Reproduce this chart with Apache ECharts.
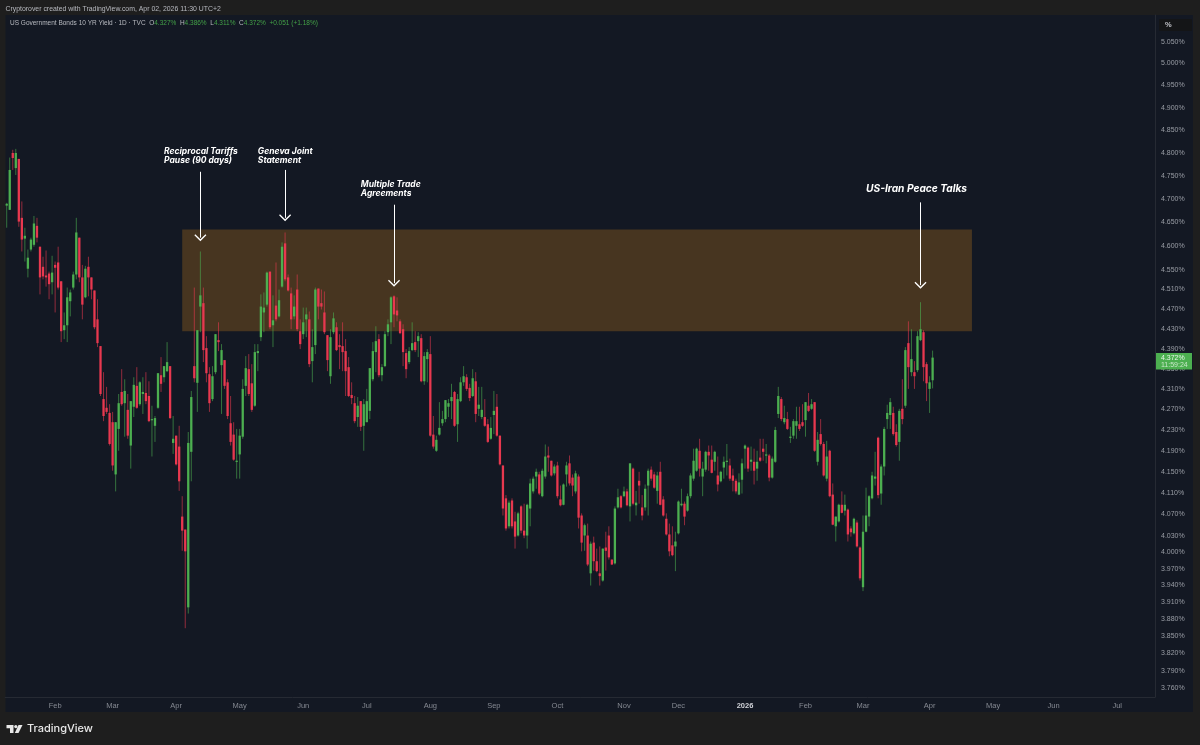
<!DOCTYPE html>
<html>
<head>
<meta charset="utf-8">
<title>US Government Bonds 10 YR Yield</title>
<script src="https://cdn.jsdelivr.net/npm/echarts@6/dist/echarts.min.js"></script>
<style>
html, body { margin: 0; padding: 0; background: #1e1e1e; }
#container { width: 1200px; height: 745px; }
</style>
</head>
<body>
<div id="container"></div>
<script>
/* daily candles (yield in %) */
var opens = [
4.686,4.677,4.800,4.767,4.787,4.660,4.616,4.553,4.593,4.603,
4.643,4.599,4.557,4.539,4.543,4.525,4.561,4.566,4.527,4.427,
4.437,4.486,4.514,4.541,4.618,4.535,4.494,4.557,4.535,4.508,
4.449,4.395,4.290,4.273,4.263,4.245,4.145,4.232,4.304,4.282,
4.269,4.200,4.275,4.316,4.280,4.300,4.302,4.296,4.249,4.238,
4.273,4.337,4.333,4.345,4.355,4.205,4.219,4.198,4.066,4.042,
3.901,4.188,4.355,4.322,4.475,4.482,4.391,4.339,4.290,4.343,
4.407,4.357,4.367,4.323,4.243,4.221,4.169,4.183,4.217,4.316,
4.349,4.321,4.277,4.381,4.413,4.463,4.479,4.547,4.437,4.477,
4.455,4.516,4.606,4.535,4.502,4.455,4.510,4.425,4.419,4.449,
4.449,4.365,4.397,4.512,4.482,4.463,4.417,4.335,4.423,4.433,
4.397,4.395,4.385,4.353,4.298,4.282,4.255,4.286,4.238,4.245,
4.267,4.329,4.383,4.409,4.337,4.355,4.423,4.443,4.496,4.467,
4.445,4.429,4.381,4.363,4.387,4.403,4.405,4.411,4.325,4.369,
4.379,4.221,4.190,4.221,4.243,4.251,4.275,4.286,4.304,4.241,
4.286,4.323,4.333,4.312,4.296,4.325,4.271,4.255,4.255,4.241,
4.213,4.259,4.275,4.219,4.162,4.100,4.048,4.096,4.057,4.031,
4.085,4.040,4.031,4.081,4.113,4.141,4.145,4.104,4.141,4.181,
4.171,4.147,4.162,4.098,4.088,4.145,4.166,4.139,4.113,4.141,
4.068,4.031,4.031,3.962,4.018,3.984,3.962,3.949,4.009,4.031,
3.987,3.980,4.083,4.104,4.104,4.113,4.085,4.156,4.087,4.133,
4.083,4.083,4.124,4.154,4.145,4.114,4.150,4.098,4.062,4.033,
4.013,4.011,4.035,4.087,4.090,4.077,4.104,4.137,4.152,4.190,
4.141,4.154,4.188,4.173,4.169,4.143,4.132,4.158,4.169,4.162,
4.143,4.133,4.107,4.135,4.194,4.196,4.169,4.169,4.156,4.177,
4.194,4.181,4.181,4.139,4.169,4.261,4.290,4.245,4.251,4.215,
4.219,4.238,4.241,4.245,4.249,4.277,4.271,4.284,4.169,4.222,
4.203,4.137,4.190,4.107,4.048,4.057,4.088,4.077,4.079,4.044,
4.035,4.055,4.009,3.937,4.038,4.066,4.100,4.137,4.215,4.109,
4.160,4.251,4.259,4.263,4.226,4.207,4.271,4.277,4.401,4.343,
4.343,4.347,4.407,4.423,4.359,4.310,4.327];
var closes = [
4.690,4.763,4.789,4.800,4.652,4.614,4.622,4.576,4.614,4.648,
4.618,4.535,4.537,4.535,4.521,4.545,4.555,4.514,4.425,4.437,
4.494,4.504,4.541,4.629,4.535,4.479,4.553,4.535,4.510,4.433,
4.401,4.300,4.257,4.265,4.203,4.162,4.245,4.282,4.280,4.306,
4.219,4.286,4.318,4.273,4.323,4.304,4.286,4.247,4.251,4.253,
4.341,4.320,4.355,4.363,4.253,4.213,4.164,4.132,4.040,4.002,
4.205,4.294,4.331,4.427,4.498,4.387,4.341,4.282,4.335,4.419,
4.403,4.387,4.316,4.257,4.207,4.173,4.171,4.219,4.310,4.351,
4.300,4.269,4.383,4.385,4.475,4.473,4.545,4.433,4.447,4.449,
4.488,4.599,4.531,4.508,4.449,4.475,4.429,4.399,4.443,4.459,
4.359,4.393,4.510,4.475,4.475,4.423,4.367,4.413,4.451,4.387,
4.393,4.383,4.345,4.296,4.292,4.247,4.277,4.236,4.280,4.286,
4.351,4.385,4.405,4.337,4.353,4.419,4.439,4.494,4.459,4.457,
4.421,4.383,4.349,4.385,4.401,4.387,4.415,4.325,4.375,4.383,
4.219,4.198,4.211,4.234,4.251,4.288,4.282,4.294,4.238,4.290,
4.323,4.335,4.310,4.292,4.331,4.261,4.279,4.269,4.238,4.207,
4.234,4.267,4.219,4.164,4.081,4.044,4.092,4.048,4.029,4.072,
4.040,4.031,4.088,4.128,4.137,4.150,4.109,4.152,4.179,4.177,
4.143,4.160,4.104,4.087,4.126,4.162,4.128,4.124,4.147,4.064,
4.018,4.050,3.978,4.016,3.984,3.966,3.957,4.007,4.003,3.991,
3.978,4.081,4.102,4.083,4.113,4.087,4.166,4.090,4.092,4.124,
4.068,4.118,4.152,4.137,4.120,4.143,4.088,4.068,4.033,4.002,
3.995,4.020,4.094,4.090,4.066,4.104,4.143,4.171,4.194,4.156,
4.156,4.188,4.181,4.148,4.188,4.126,4.150,4.169,4.171,4.137,
4.133,4.113,4.130,4.166,4.200,4.156,4.173,4.152,4.169,4.171,
4.188,4.183,4.139,4.175,4.230,4.296,4.251,4.253,4.232,4.217,
4.247,4.247,4.232,4.238,4.284,4.267,4.280,4.190,4.211,4.203,
4.143,4.179,4.104,4.051,4.066,4.088,4.073,4.088,4.033,4.037,
4.062,4.011,3.953,4.038,4.068,4.104,4.143,4.141,4.106,4.160,
4.232,4.263,4.284,4.222,4.201,4.267,4.251,4.387,4.353,4.369,
4.335,4.415,4.429,4.353,4.321,4.323,4.372];
var highs = [
4.692,4.790,4.807,4.809,4.787,4.695,4.639,4.593,4.618,4.664,
4.660,4.599,4.578,4.591,4.547,4.580,4.568,4.599,4.527,4.463,
4.514,4.510,4.547,4.660,4.618,4.561,4.559,4.578,4.535,4.508,
4.490,4.395,4.343,4.314,4.280,4.265,4.245,4.300,4.349,4.329,
4.300,4.286,4.333,4.353,4.325,4.333,4.343,4.325,4.277,4.257,
4.341,4.373,4.355,4.403,4.355,4.257,4.219,4.238,4.104,4.042,
4.226,4.306,4.514,4.427,4.589,4.514,4.415,4.353,4.355,4.419,
4.443,4.399,4.367,4.329,4.296,4.245,4.232,4.232,4.329,4.375,
4.379,4.359,4.399,4.399,4.500,4.504,4.547,4.547,4.498,4.566,
4.510,4.608,4.629,4.541,4.514,4.498,4.541,4.449,4.473,4.473,
4.465,4.429,4.514,4.512,4.510,4.506,4.417,4.429,4.463,4.443,
4.419,4.443,4.409,4.373,4.323,4.296,4.294,4.286,4.290,4.310,
4.351,4.403,4.435,4.419,4.359,4.425,4.449,4.496,4.498,4.494,
4.449,4.439,4.389,4.393,4.443,4.425,4.423,4.419,4.383,4.389,
4.415,4.257,4.219,4.284,4.267,4.288,4.290,4.320,4.306,4.300,
4.333,4.355,4.339,4.320,4.349,4.343,4.314,4.314,4.290,4.251,
4.255,4.306,4.300,4.219,4.162,4.106,4.096,4.100,4.075,4.075,
4.087,4.090,4.090,4.137,4.141,4.156,4.150,4.156,4.202,4.198,
4.171,4.164,4.169,4.124,4.128,4.169,4.181,4.145,4.152,4.145,
4.072,4.053,4.053,4.020,4.029,4.007,4.011,4.007,4.038,4.048,
3.987,4.085,4.118,4.106,4.122,4.118,4.166,4.158,4.114,4.150,
4.106,4.126,4.156,4.160,4.150,4.150,4.169,4.104,4.072,4.053,
4.048,4.038,4.096,4.118,4.094,4.109,4.147,4.194,4.196,4.213,
4.169,4.190,4.200,4.200,4.190,4.179,4.152,4.179,4.203,4.175,
4.156,4.137,4.147,4.175,4.202,4.198,4.198,4.194,4.190,4.213,
4.213,4.203,4.184,4.179,4.236,4.314,4.294,4.277,4.265,4.236,
4.251,4.275,4.275,4.280,4.284,4.302,4.290,4.284,4.226,4.251,
4.207,4.209,4.192,4.128,4.066,4.090,4.113,4.107,4.081,4.048,
4.064,4.059,4.011,4.068,4.120,4.106,4.150,4.188,4.217,4.164,
4.236,4.279,4.292,4.275,4.241,4.271,4.329,4.393,4.445,4.429,
4.365,4.425,4.484,4.427,4.363,4.335,4.386];
var lows = [
4.639,4.677,4.763,4.752,4.641,4.589,4.568,4.535,4.589,4.599,
4.608,4.500,4.531,4.516,4.490,4.500,4.463,4.510,4.403,4.409,
4.403,4.455,4.510,4.531,4.525,4.449,4.492,4.496,4.490,4.429,
4.393,4.296,4.247,4.261,4.200,4.152,4.113,4.190,4.277,4.217,
4.213,4.156,4.255,4.271,4.277,4.261,4.280,4.245,4.179,4.207,
4.271,4.304,4.323,4.343,4.251,4.184,4.162,4.114,4.003,3.864,
3.890,4.132,4.323,4.265,4.423,4.363,4.323,4.265,4.286,4.339,
4.385,4.261,4.310,4.251,4.200,4.171,4.137,4.137,4.213,4.296,
4.296,4.265,4.275,4.345,4.405,4.423,4.475,4.429,4.393,4.445,
4.453,4.514,4.527,4.506,4.429,4.449,4.425,4.389,4.409,4.413,
4.353,4.323,4.379,4.449,4.469,4.419,4.345,4.320,4.419,4.385,
4.349,4.345,4.296,4.294,4.280,4.243,4.236,4.228,4.190,4.245,
4.251,4.325,4.343,4.333,4.325,4.353,4.415,4.399,4.433,4.445,
4.419,4.355,4.331,4.359,4.385,4.383,4.373,4.323,4.318,4.323,
4.217,4.194,4.188,4.219,4.238,4.245,4.255,4.251,4.236,4.207,
4.284,4.316,4.306,4.286,4.294,4.245,4.257,4.251,4.236,4.205,
4.211,4.222,4.217,4.162,4.068,4.040,4.044,4.044,4.007,4.029,
4.035,4.026,4.007,4.048,4.109,4.118,4.106,4.102,4.137,4.150,
4.141,4.143,4.100,4.085,4.087,4.122,4.124,4.104,4.109,4.044,
4.002,4.003,3.975,3.940,3.967,3.964,3.940,3.947,3.967,3.987,
3.977,3.978,4.081,4.081,4.102,4.085,4.057,4.087,4.068,4.090,
4.059,4.077,4.068,4.133,4.118,4.090,4.087,4.066,4.031,3.993,
3.993,3.966,4.033,4.085,4.050,4.075,4.100,4.133,4.150,4.141,
4.104,4.150,4.152,4.147,4.152,4.113,4.130,4.137,4.143,4.133,
4.113,4.109,4.106,4.109,4.156,4.150,4.152,4.126,4.133,4.169,
4.171,4.166,4.132,4.137,4.167,4.253,4.247,4.241,4.230,4.205,
4.213,4.213,4.228,4.236,4.217,4.265,4.269,4.188,4.162,4.200,
4.141,4.132,4.102,4.050,4.020,4.055,4.072,4.068,4.020,4.029,
4.033,4.009,3.949,3.930,4.037,4.048,4.098,4.124,4.100,4.088,
4.143,4.232,4.232,4.219,4.198,4.171,4.241,4.273,4.310,4.335,
4.310,4.343,4.405,4.325,4.286,4.263,4.311];

/* axis */
var barSlots = 380; // candles plus the empty bars to the right
var monthLabels = ['Feb','Mar','Apr','May','Jun','Jul','Aug','Sep','Oct','Nov','Dec','2026','Feb','Mar','Apr','May','Jun','Jul'];
var monthSlots = [16,35,56,77,98,119,140,161,182,204,222,244,264,283,305,326,346,367];
var yieldTicks = [5.05,5,4.95,4.9,4.85,4.8,4.75,4.7,4.65,4.6,4.55,4.51,4.47,4.43,4.39,4.35,4.31,4.27,4.23,4.19,4.15,4.11,4.07,4.03,4,3.97,3.94,3.91,3.88,3.85,3.82,3.79,3.76];
var yieldMin = 3.7446, yieldMax = 5.112;

/* annotations */
var zoneSlots = [58, 319];
var zoneYields = [4.635, 4.425];
var arrowSlots = [64, 92, 128, 302];
var arrowTops = [4.759, 4.763, 4.688, 4.693];
var arrowTips = [4.618, 4.660, 4.523, 4.519];
var noteTexts = ['Reciprocal Tariffs\nPause (90 days)', 'Geneva Joint\nStatement', 'Multiple Trade\nAgreements', 'US-Iran Peace Talks'];
var noteSlots = [52, 83, 117, 284];
var noteYields = [4.793, 4.794, 4.721, 4.722];

var lastClose = closes[closes.length - 1];
var UP = '#4caf50', DOWN = '#e8384f';
var FONT = '"Liberation Sans", sans-serif';
var NOTE_FONT = 'Inter, "Liberation Sans", sans-serif';

var categories = [];
for (var i = 0; i < barSlots; i++) {
    var idx = monthSlots.indexOf(i);
    categories.push(idx >= 0 ? monthLabels[idx] : '');
}

var candleData = [];
for (var j = 0; j < opens.length; j++) {
    candleData.push([j, opens[j], closes[j], lows[j], highs[j]]);
}

/* candlestick series snaps bars to whole pixels, so wick and body are drawn here */
function renderCandle(params, api) {
    var slot = api.value(0);
    var open = api.coord([slot, api.value(1)]);
    var close = api.coord([slot, api.value(2)]);
    var low = api.coord([slot, api.value(3)]);
    var high = api.coord([slot, api.value(4)]);
    var color = api.value(2) >= api.value(1) ? UP : DOWN;
    var top = Math.min(open[1], close[1]);
    var bodyH = Math.max(Math.abs(open[1] - close[1]), 1.2);
    return {
        type: 'group',
        children: [{
            type: 'line',
            shape: {x1: open[0], y1: high[1], x2: open[0], y2: low[1]},
            style: {stroke: color, lineWidth: 1, opacity: 0.6}
        }, {
            type: 'rect',
            shape: {x: open[0] - 1.15, y: top, width: 2.3, height: bodyH},
            style: {fill: color}
        }]
    };
}

var arrowLines = [];
for (var k = 0; k < arrowSlots.length; k++) {
    arrowLines.push([{coord: [arrowSlots[k], arrowTops[k]]}, {coord: [arrowSlots[k], arrowTips[k]]}]);
}

var notes = [];
for (var n = 0; n < noteTexts.length; n++) {
    notes.push({
        coord: [noteSlots[n], noteYields[n]],
        symbolSize: 0,
        label: {
            show: true, position: 'right', distance: 0, formatter: noteTexts[n],
            color: '#ffffff', fontFamily: NOTE_FONT, fontWeight: 'bold', fontStyle: 'italic',
            fontSize: n == 3 ? 10.2 : 8.5, lineHeight: 9
        }
    });
}

var dom = document.getElementById('container');
var myChart = echarts.init(dom);

var option = {
    animation: false,
    backgroundColor: '#1e1e1e',
    grid: {left: 5.2, right: 45, top: 15, height: 682},
    xAxis: {
        type: 'category',
        data: categories,
        boundaryGap: true,
        axisLine: {lineStyle: {color: '#262a33'}},
        axisTick: {show: false},
        splitLine: {show: false},
        axisLabel: {
            interval: 0, margin: 5, color: '#858992', fontSize: 7.5, fontFamily: FONT,
            formatter: function (v) { return v == '2026' ? '{y|2026}' : v; },
            rich: {y: {color: '#d0d2d8', fontSize: 7.5, fontWeight: 'bold', fontFamily: FONT}}
        }
    },
    yAxis: {
        type: 'log',
        logBase: 10,
        position: 'right',
        min: yieldMin,
        max: yieldMax,
        axisLine: {show: true, lineStyle: {color: '#262a33'}},
        axisTick: {show: false},
        splitLine: {show: false},
        axisLabel: {
            customValues: yieldTicks,
            margin: 6, color: '#9a9ea6', fontSize: 7, fontFamily: FONT,
            formatter: function (v) { return Number(v).toFixed(3) + '%'; }
        }
    },
    series: [{
        type: 'custom',
        data: candleData,
        renderItem: renderCandle,
        encode: {x: 0, y: [1, 2, 3, 4]},
        clip: false,
        markArea: {
            silent: true,
            itemStyle: {color: 'rgba(170,108,28,0.35)', opacity: 1},
            data: [[{coord: [zoneSlots[0], zoneYields[0]]}, {coord: [zoneSlots[1], zoneYields[1]]}]]
        },
        markLine: {
            silent: true,
            symbol: ['none', 'path://M0,9 L10,0 L20,9 L18.5,10.5 L10,3 L1.5,10.5 Z'],
            symbolSize: [12, 7],
            label: {show: false},
            lineStyle: {color: '#ffffff', width: 1, type: 'solid', opacity: 1},
            data: arrowLines
        },
        markPoint: {silent: true, symbol: 'circle', data: notes}
    }],
    graphic: [
        {type: 'rect', z: -10, shape: {x: 5.5, y: 15, width: 1187.5, height: 697}, style: {fill: '#131823'}},
        {type: 'text', x: 5.5, y: 6, style: {text: 'Cryptorover created with TradingView.com, Apr 02, 2026 11:30 UTC+2', fill: '#b8bac0', font: '6.9px ' + FONT}},
        {type: 'text', x: 10, y: 20, style: {
            text: 'US Government Bonds 10 YR Yield · 1D · TVC  O{g|4.327%}  H{g|4.386%}  L{g|4.311%}  C{g|4.372%}  {g|+0.051 (+1.18%)}',
            fill: '#b8bac0', font: '6.5px ' + FONT,
            rich: {g: {fill: '#43a047', font: '6.5px ' + FONT}}
        }},
        {type: 'rect', shape: {x: 1159, y: 19, width: 33, height: 12, r: 1}, style: {fill: '#141517'}},
        {type: 'text', x: 1165, y: 21, style: {text: '%', fill: '#c0c2c8', font: 'bold 7.5px ' + FONT}},
        {type: 'polygon', shape: {points: [[6.5,725],[13.5,725],[13.5,733],[10,733],[10,728.2],[6.5,728.2]]}, style: {fill: '#e8e8e8'}},
        {type: 'circle', shape: {cx: 15.8, cy: 726.6, r: 1.6}, style: {fill: '#e8e8e8'}},
        {type: 'polygon', shape: {points: [[18.5,725],[22.5,725],[18.5,733],[14.8,733]]}, style: {fill: '#e8e8e8'}},
        {type: 'text', x: 27, y: 723, style: {text: 'TradingView', fill: '#e8e8e8', font: '500 11px Inter, sans-serif'}}
    ]
};
myChart.setOption(option);

/* price tag follows the last close */
var tagY = myChart.convertToPixel({yAxisIndex: 0}, lastClose);
myChart.setOption({graphic: option.graphic.concat([
    {type: 'rect', z: 100, shape: {x: 1156, y: tagY - 4.5, width: 36, height: 16.5}, style: {fill: '#4caf50'}},
    {type: 'text', z: 101, x: 1161, y: tagY - 3, style: {text: lastClose.toFixed(3) + '%', fill: '#e8f5e9', font: '7px ' + FONT}},
    {type: 'text', z: 101, x: 1161, y: tagY + 4, style: {text: '11:59:24', fill: '#c8e6c9', font: '7px ' + FONT}}
])});
</script>
</body>
</html>
